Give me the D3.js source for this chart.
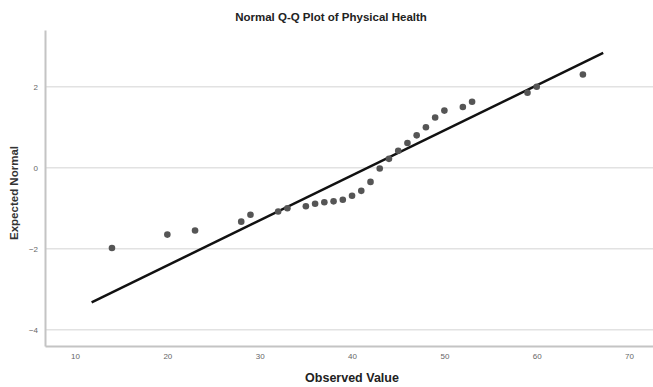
<!DOCTYPE html>
<html>
<head>
<meta charset="utf-8">
<script src="https://cdn.jsdelivr.net/npm/d3@7"></script>
<style>
  body { margin: 0; background: #fff; }
  svg { display: block; font-family: "Liberation Sans", Arial, sans-serif; }
</style>
</head>
<body>
<div id="chart"></div>
<script>
// valores
const observed = [14, 20, 23, 28, 29, 32, 33, 35, 36, 37, 38, 39, 40, 41, 42, 43, 44, 45, 46, 47, 48, 49, 50, 52, 53, 59, 60, 65];
const expected = [-1.98, -1.65, -1.55, -1.33, -1.16, -1.08, -1.0, -0.95, -0.89, -0.85, -0.83, -0.79, -0.69, -0.57, -0.35, -0.02, 0.22, 0.42, 0.61, 0.8, 1.0, 1.24, 1.41, 1.5, 1.63, 1.85, 2.0, 2.3];
const xTicks = [10, 20, 30, 40, 50, 60, 70];
const yTicks = [-4, -2, 0, 2];
// reta de referência normal (média e desvio)
const lineMean = 41.7;
const lineSd = 9.0;
const lineRange = [11.8, 67.2];

const width = 653, height = 387;
const margin = { top: 30, right: 0, bottom: 41, left: 45 };

const svg = d3.select("#chart").append("svg")
    .attr("width", width)
    .attr("height", height);

const x = d3.scaleLinear()
    .domain([6.75, 72.7])
    .range([margin.left, width + 1]);

const y = d3.scaleLinear()
    .domain([-4.4, 3.4])
    .range([height - margin.bottom, margin.top]);

// linhas de grade
svg.append("g")
    .selectAll("line")
    .data(yTicks)
    .join("line")
    .attr("x1", margin.left)
    .attr("x2", width)
    .attr("y1", d => y(d))
    .attr("y2", d => y(d))
    .attr("stroke", "#e2e2e2")
    .attr("stroke-width", 1.5);

// eixo Y
const yAxis = svg.append("g")
    .attr("transform", `translate(${margin.left},0)`)
    .call(d3.axisLeft(y).tickValues(yTicks).tickSize(0).tickPadding(7));
yAxis.select(".domain").attr("stroke", "#c4c4c4").attr("stroke-width", 2);
yAxis.selectAll("text").attr("fill", "#666").style("font-size", "8px");

// eixo X
const xAxis = svg.append("g")
    .attr("transform", `translate(0,${height - margin.bottom})`)
    .call(d3.axisBottom(x).tickValues(xTicks).tickSize(0).tickPadding(7));
xAxis.select(".domain").attr("stroke", "#c4c4c4").attr("stroke-width", 2);
xAxis.selectAll("text").attr("fill", "#666").style("font-size", "8px");

// reta
svg.append("line")
    .attr("x1", x(lineRange[0]))
    .attr("y1", y((lineRange[0] - lineMean) / lineSd))
    .attr("x2", x(lineRange[1]))
    .attr("y2", y((lineRange[1] - lineMean) / lineSd))
    .attr("stroke", "#111")
    .attr("stroke-width", 2.5);

// pontos
svg.append("g")
    .selectAll("circle")
    .data(observed.map((v, i) => ({ obs: v, exp: expected[i] })))
    .join("circle")
    .attr("cx", d => x(d.obs))
    .attr("cy", d => y(d.exp))
    .attr("r", 3.3)
    .attr("fill", "#555");

// títulos
svg.append("text")
    .attr("x", 331)
    .attr("y", 21)
    .attr("text-anchor", "middle")
    .style("font-size", "11.5px")
    .style("font-weight", "bold")
    .attr("fill", "#222")
    .text("Normal Q-Q Plot of Physical Health");

svg.append("text")
    .attr("x", 352)
    .attr("y", 382)
    .attr("text-anchor", "middle")
    .style("font-size", "12.5px")
    .style("font-weight", "bold")
    .attr("fill", "#222")
    .text("Observed Value");

svg.append("text")
    .attr("transform", "translate(18,193) rotate(-90)")
    .attr("text-anchor", "middle")
    .style("font-size", "11.5px")
    .style("font-weight", "bold")
    .attr("fill", "#333")
    .text("Expected Normal");
</script>
</body>
</html>
